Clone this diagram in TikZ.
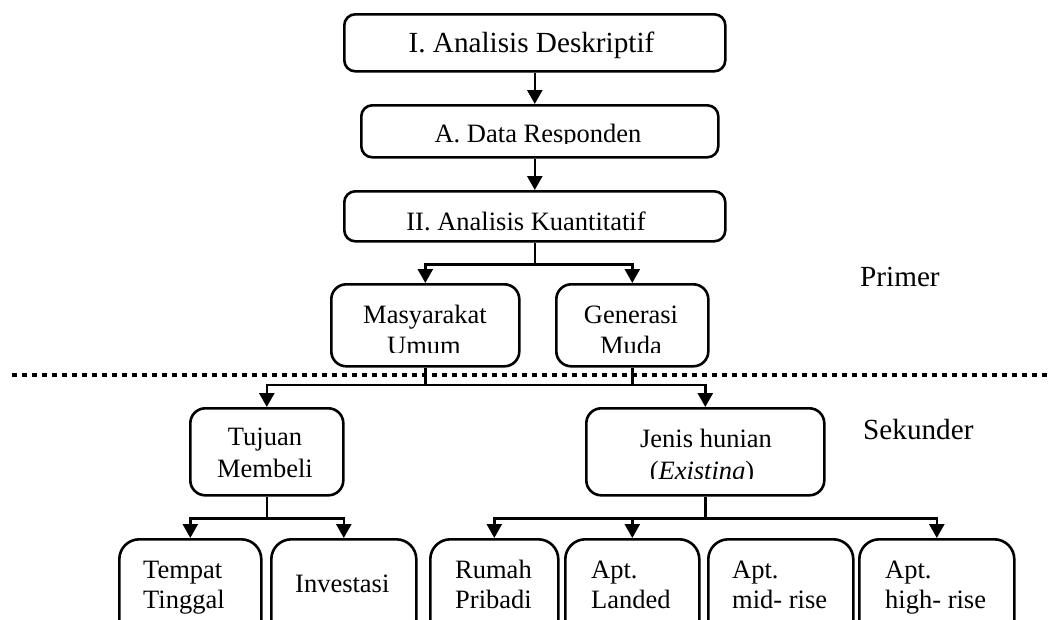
\documentclass[tikz,border=0pt]{standalone}
\usepackage{fontspec}
\setmainfont{Liberation Serif}
\usetikzlibrary{arrows.meta}
\begin{document}
\begin{tikzpicture}[x=1pt,y=-1pt,
  box/.style={draw, line width=2.6pt, rounded corners=#1, inner sep=0pt, anchor=north west},
  box/.default=11pt,
  lbl/.style={font=\fontsize{26.5}{31.5}\selectfont, inner sep=0pt, anchor=base},
  lblw/.style={font=\fontsize{26.5}{31.5}\selectfont, inner sep=0pt, anchor=base west},
  big/.style={font=\fontsize{29.2}{34}\selectfont},
  conn/.style={line width=2.6pt},
  arr/.style={line width=2.6pt, -{Triangle[width=15pt,length=14pt]}},
  sepline/.style={line width=4pt, dash pattern=on 5pt off 5pt}]
\useasboundingbox (0,0) rectangle (1049,619);
\clip (0,0) rectangle (1049,619);

% separator
\coordinate (sepL) at (12,375);
\coordinate (sepR) at (1049,375);
\draw[sepline] (sepL) -- (sepR);

% boxes
\node[box, minimum width=381pt, minimum height=57pt] (desk) at (343,13) {};
\node[box, minimum width=357pt, minimum height=52pt] (resp) at (360,104) {};
\node[box, minimum width=381pt, minimum height=50pt] (kuan) at (343,190) {};
\node[box=15pt, minimum width=188pt, minimum height=82pt] (mas) at (330,283) {};
\node[box=15pt, minimum width=152pt, minimum height=82pt] (gen) at (555,283) {};
\node[box=15pt, minimum width=153pt, minimum height=87pt] (tuj) at (189,407) {};
\node[box=15pt, minimum width=238pt, minimum height=87pt] (jen) at (585,407) {};
\node[box=20pt, minimum width=142pt, minimum height=112pt] (tem) at (118,538) {};
\node[box=20pt, minimum width=145pt, minimum height=112pt] (inv) at (270,538) {};
\node[box=20pt, minimum width=128pt, minimum height=112pt] (rum) at (429,538) {};
\node[box=20pt, minimum width=134pt, minimum height=112pt] (lan) at (564,538) {};
\node[box=20pt, minimum width=145pt, minimum height=112pt] (mid) at (707,538) {};
\node[box=20pt, minimum width=155pt, minimum height=112pt] (hig) at (858,538) {};

% texts
\node[lbl, big] (t-desk) at (531.5,52) {I. Analisis Deskriptif};
\begin{scope}
\clip (360,100) rectangle (717,143.5);
\node[lbl] (t-resp) at (538,142) {A. Data Responden};
\end{scope}
\node[lbl] (t-kuan) at (526,230) {II. Analisis Kuantitatif};
\node[lbl] (t-mas1) at (425,323) {Masyarakat};
\node[lbl] (t-gen1) at (631,323) {Generasi};
\begin{scope}
\clip (330,330) rectangle (707,352.5);
\node[lbl] (t-mas2) at (424,354.5) {Umum};
\node[lbl] (t-gen2) at (631,354.5) {Muda};
\end{scope}
\node[lbl] (t-tuj1) at (265,445.5) {Tujuan};
\node[lbl] (t-tuj2) at (265,477) {Membeli};
\node[lbl] (t-jen1) at (706,447) {Jenis hunian};
\begin{scope}
\clip (585,455) rectangle (823,478);
\node[lbl] (t-jen2) at (702,479.5) {(\textit{Existing})};
\end{scope}
\node[lblw] (t-tem1) at (143,578) {Tempat};
\node[lblw] (t-tem2) at (143,608.5) {Tinggal};
\node[lblw] (t-inv) at (295,592) {Investasi};
\node[lblw] (t-rum1) at (455,578) {Rumah};
\node[lblw] (t-rum2) at (455,608.5) {Pribadi};
\node[lblw] (t-lan1) at (591,578) {Apt.};
\node[lblw] (t-lan2) at (591,608.5) {Landed};
\node[lblw] (t-mid1) at (732,578) {Apt.};
\node[lblw] (t-mid2) at (732,608.5) {mid- rise};
\node[lblw] (t-hig1) at (885,578) {Apt.};
\node[lblw] (t-hig2) at (885,608.5) {high- rise};
\node[lblw, big] (primer) at (860,286) {Primer};
\node[lblw, big] (sekunder) at (863,439) {Sekunder};

% connectors
\draw[arr] (desk.south) -- (desk.south |- resp.north);
\draw[arr] (resp.south -| kuan.north) -- (kuan.north);
\draw[conn] (kuan.south) -- ++(0,22) coordinate (kb);
\draw[arr] (kb) -| (mas.north);
\draw[arr] (kb) -| (gen.north);
\coordinate (bus) at (0,385);
\draw[conn] (mas.south) -- (mas.south |- bus);
\draw[conn] (gen.south) -- (gen.south |- bus);
\draw[arr] (mas.south |- bus) -| (tuj.north);
\draw[arr] (mas.south |- bus) -| (jen.north);
\draw[conn] (tuj.south) -- ++(0,22) coordinate (tb);
\draw[arr] (tb) -| (tem.north);
\draw[arr] (tb) -| (inv.north);
\draw[conn] (jen.south) -- ++(0,22) coordinate (jb);
\draw[arr] (jb) -| (rum.north);
\draw[arr] (jb) -| (lan.north);
\draw[arr] (jb) -| (hig.north);
\end{tikzpicture}
\end{document}
